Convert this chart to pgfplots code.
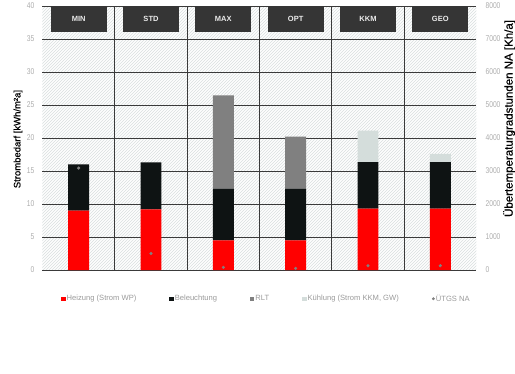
\documentclass[border=0pt]{standalone}
\usepackage{fontspec}
\setmainfont{Liberation Sans}
\newfontfamily\tickfont{Liberation Sans}[FakeStretch=0.8]
\newfontfamily\labfont{Liberation Sans}[FakeBold=0.6]
\usepackage{pgfplots}
\pgfplotsset{compat=1.18}
\usetikzlibrary{patterns,calc}
\definecolor{heiz}{HTML}{FF0000}
\definecolor{bel}{HTML}{0E1313}
\definecolor{rlt}{HTML}{808080}
\definecolor{kuehl}{HTML}{D4DDDB}
\definecolor{boxc}{HTML}{353535}
\definecolor{gridc}{HTML}{3A3A3A}
\definecolor{tickc}{HTML}{ADADAD}
\definecolor{legc}{HTML}{9A9A9A}
\definecolor{hatchc}{HTML}{D9DFDF}
\begin{document}
\begin{tikzpicture}
\begin{axis}[
  name=ax,
  scale only axis, width=434pt, height=264pt,
  ybar stacked, bar width=0.29,
  xmin=-0.5, xmax=5.5, ymin=0, ymax=40,
  xtick={0.5,1.5,2.5,3.5,4.5}, xticklabels={},
  ytick={0,5,...,40},
  ymajorgrids, xmajorgrids,
  grid style={gridc, line width=0.9pt},
  axis line style={draw=none},
  major tick style={draw=none}, minor tick style={draw=none},
  axis background/.style={preaction={fill=white!97!hatchc}, pattern=north east lines, pattern color=hatchc},
  /pgf/number format/assume math mode=true,
  yticklabel style={font=\tickfont\fontsize{8.4}{9}\selectfont, text=tickc, xshift=-4.5pt},
  ylabel={Strombedarf [kWh/m²a]},
  ylabel style={at={(axis description cs:-0.0565,0.496)}, anchor=center, font=\labfont\fontsize{9.5}{11}\selectfont, text=black},
  legend columns=5,
  legend cell align=left,
  legend style={at={(axis description cs:0.036,-0.109)}, anchor=west, draw=none, fill=none,
    font=\fontsize{7.6}{9}\selectfont, text=legc,
    /tikz/every even column/.append style={column sep=32pt},
    /tikz/every odd column/.append style={column sep=0pt},
    nodes={inner xsep=1pt}},
]
\addplot[fill=heiz, draw=none, legend image code/.code={\fill[heiz] (0pt,-2.2pt) rectangle (4.4pt,2.2pt);}]
  coordinates {(0,9.0) (1,9.2) (2,4.5) (3,4.5) (4,9.3) (5,9.3)};
\addlegendentry{Heizung (Strom WP)}
\addplot[fill=bel, draw=none, legend image code/.code={\fill[bel] (0pt,-2.2pt) rectangle (4.4pt,2.2pt);}]
  coordinates {(0,7.0) (1,7.1) (2,7.8) (3,7.8) (4,7.05) (5,7.05)};
\addlegendentry{Beleuchtung}
\addplot[fill=rlt, draw=none, legend image code/.code={\fill[rlt] (0pt,-2.2pt) rectangle (4.4pt,2.2pt);}]
  coordinates {(0,0) (1,0) (2,14.15) (3,7.9) (4,0) (5,0)};
\addlegendentry{RLT}
\addplot[fill=kuehl, draw=none, legend image code/.code={\fill[kuehl] (0pt,-2.2pt) rectangle (4.4pt,2.2pt);}]
  coordinates {(0,0) (1,0) (2,0) (3,0) (4,4.75) (5,1.25)};
\addlegendentry{Kühlung (Strom KKM, GW)}
\addlegendimage{legend image code/.code={\fill[rlt] (2.2pt,0pt) circle (1.3pt);}}
\addlegendentry{ÜTGS NA}
\node[fill=boxc, text=white!92!black, font=\bfseries\fontsize{7.5}{8}\selectfont, minimum width=56pt, minimum height=26pt, inner sep=0pt] at (axis cs:0,38.05) {MIN};
\node[fill=boxc, text=white!92!black, font=\bfseries\fontsize{7.5}{8}\selectfont, minimum width=56pt, minimum height=26pt, inner sep=0pt] at (axis cs:1,38.05) {STD};
\node[fill=boxc, text=white!92!black, font=\bfseries\fontsize{7.5}{8}\selectfont, minimum width=56pt, minimum height=26pt, inner sep=0pt] at (axis cs:2,38.05) {MAX};
\node[fill=boxc, text=white!92!black, font=\bfseries\fontsize{7.5}{8}\selectfont, minimum width=56pt, minimum height=26pt, inner sep=0pt] at (axis cs:3,38.05) {OPT};
\node[fill=boxc, text=white!92!black, font=\bfseries\fontsize{7.5}{8}\selectfont, minimum width=56pt, minimum height=26pt, inner sep=0pt] at (axis cs:4,38.05) {KKM};
\node[fill=boxc, text=white!92!black, font=\bfseries\fontsize{7.5}{8}\selectfont, minimum width=56pt, minimum height=26pt, inner sep=0pt] at (axis cs:5,38.05) {GEO};
\end{axis}
\begin{axis}[
  scale only axis, width=434pt, height=264pt,
  xmin=-0.5, xmax=5.5, ymin=0, ymax=8000,
  axis x line=none, axis y line*=right,
  axis line style={draw=none},
  major tick style={draw=none},
  ytick={0,1000,...,8000},
  /pgf/number format/1000 sep={},
  /pgf/number format/assume math mode=true,
  yticklabel style={font=\tickfont\fontsize{8.4}{9}\selectfont, text=tickc, xshift=5.5pt},
  ylabel={Übertemperaturgradstunden NA [Kh/a]},
  ylabel style={at={(axis description cs:1.075,0.574)}, anchor=center, font=\labfont\fontsize{11.5}{13}\selectfont, text=black},
]
\addplot[only marks, mark=*, mark size=1.4pt, color=rlt]
  coordinates {(0,3090) (1,500) (2,80) (3,50) (4,130) (5,130)};
\end{axis}
\pgfresetboundingbox
\path ($(ax.south west)+(-42.5pt,-103pt)$) rectangle ++(515pt,373pt);
\end{tikzpicture}
\end{document}
